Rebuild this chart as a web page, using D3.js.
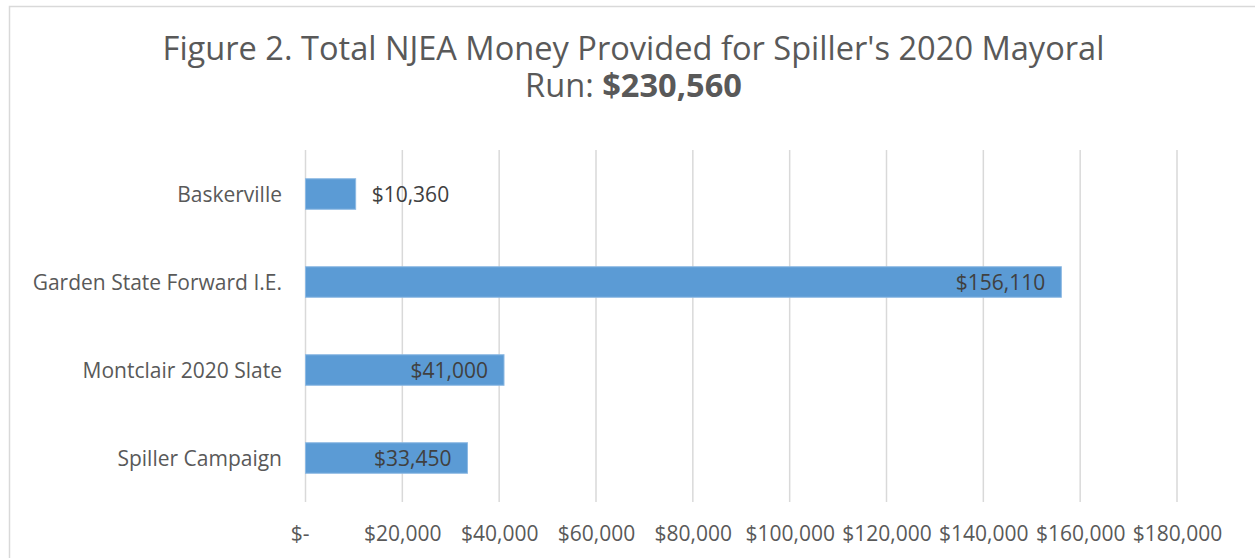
<!DOCTYPE html>
<html>
<head>
<meta charset="utf-8">
<script src="https://cdn.jsdelivr.net/npm/d3@7"></script>
<style>
  html, body { margin: 0; padding: 0; background: #fff; }
  svg { display: block; font-family: "Open Sans", sans-serif; }
</style>
</head>
<body>
<svg id="chart" width="1255" height="558"></svg>
<script>
const categories = ["Baskerville", "Garden State Forward I.E.", "Montclair 2020 Slate", "Spiller Campaign"];
const values = [10360, 156110, 41000, 33450];
const labelOutside = [true, false, false, false];
const tickValues = [0, 20000, 40000, 60000, 80000, 100000, 120000, 140000, 160000, 180000];
const titleLine1 = "Figure 2. Total NJEA Money Provided for Spiller's 2020 Mayoral";
const titleLine2a = "Run: ";
const titleLine2b = "$230,560";

const svg = d3.select("#chart");
const W = 1255, H = 558;

// chart border
svg.append("rect")
  .attr("x", 9.5).attr("y", 6.5)
  .attr("width", W + 20).attr("height", H + 20)
  .attr("fill", "#fff").attr("stroke", "#d9d9d9").attr("stroke-width", 1.5);

const plot = { left: 305.5, right: 1177, top: 150, bottom: 502 };

const x = d3.scaleLinear().domain([0, 180000]).range([plot.left, plot.right]);
const y = d3.scaleBand().domain(categories).range([plot.top, plot.bottom])
  .paddingInner(0.653).paddingOuter(0.3265);

// title (two separate lines)
svg.append("text")
  .attr("x", 633.5).attr("y", 60)
  .attr("text-anchor", "middle").attr("fill", "#595959")
  .style("font-size", "32.6px")
  .text(titleLine1);
const t2 = svg.append("text")
  .attr("x", 633.5).attr("y", 97)
  .attr("text-anchor", "middle").attr("fill", "#595959")
  .style("font-size", "32.6px");
t2.append("tspan").text(titleLine2a);
t2.append("tspan").attr("font-weight", "bold").text(titleLine2b);

// gridlines
svg.append("g")
  .selectAll("line").data(tickValues).join("line")
  .attr("x1", d => x(d)).attr("x2", d => x(d))
  .attr("y1", plot.top).attr("y2", plot.bottom)
  .attr("stroke", "#d9d9d9").attr("stroke-width", 1.5);

// x axis (labels only)
const fmt = d3.format(",");
const xAxis = d3.axisBottom(x).tickValues(tickValues).tickSize(0)
  .tickFormat(d => d === 0 ? "$-" : "$" + fmt(d));
const gx = svg.append("g").attr("transform", `translate(0,${plot.bottom})`).call(xAxis);
gx.select(".domain").remove();
gx.selectAll("text")
  .attr("y", 0).attr("dy", 0)
  .attr("transform", "translate(0,39)")
  .attr("fill", "#595959")
  .style("font-size", "21px").style("font-family", "'Open Sans', sans-serif")
  .attr("dx", d => d === 0 ? -6 : 0);

// y axis (category labels only)
const yAxis = d3.axisLeft(y).tickSize(0).tickPadding(0);
const gy = svg.append("g").attr("transform", `translate(282,0)`).call(yAxis);
gy.select(".domain").remove();
gy.selectAll("text")
  .attr("x", 0).attr("dy", "0.36em")
  .attr("fill", "#595959")
  .style("font-size", "21px").style("font-family", "'Open Sans', sans-serif");

// bars
const data = categories.map((c, i) => ({ c, v: values[i], out: labelOutside[i] }));
svg.append("g").selectAll("rect").data(data).join("rect")
  .attr("x", x(0)).attr("y", d => y(d.c))
  .attr("width", d => x(d.v) - x(0)).attr("height", y.bandwidth())
  .attr("fill", "#5b9bd5").attr("stroke", "#8db9e3").attr("stroke-width", 1);

// data labels
svg.append("g").selectAll("text").data(data).join("text")
  .attr("x", d => d.out ? x(d.v) + 16 : x(d.v) - 16)
  .attr("y", d => y(d.c) + y.bandwidth() / 2)
  .attr("dy", "0.36em")
  .attr("text-anchor", d => d.out ? "start" : "end")
  .attr("fill", "#404040")
  .style("font-size", "21px")
  .text(d => "$" + fmt(d.v));
</script>
</body>
</html>
